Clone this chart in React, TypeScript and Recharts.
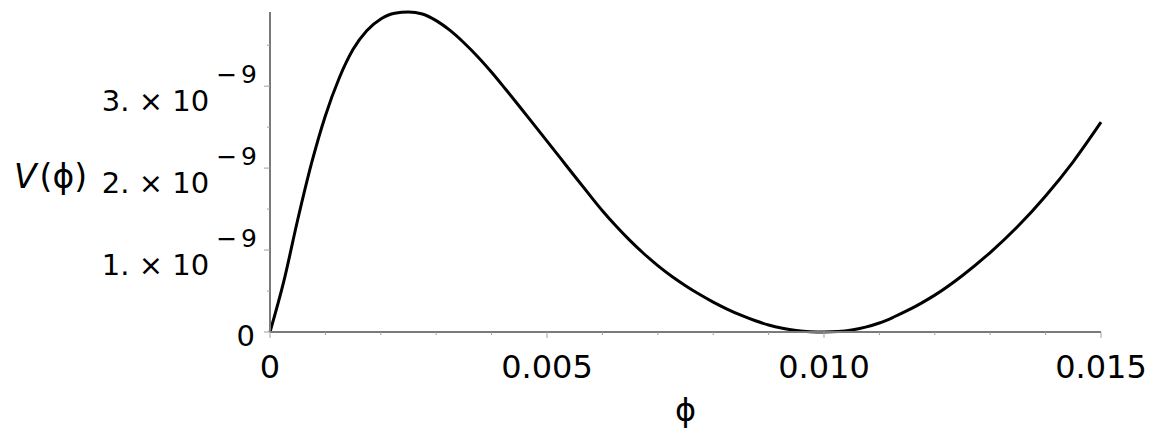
import { LineChart, Line, XAxis, YAxis } from 'recharts';

// curve samples (phi, V(phi))
const PHI = [
  0, 0.00025, 0.0005, 0.00075, 0.001, 0.00125, 0.0015, 0.00175, 0.002, 0.00225,
  0.0025, 0.00275, 0.003, 0.00325, 0.0035, 0.00375, 0.004, 0.00425, 0.0045, 0.00475,
  0.005, 0.00525, 0.0055, 0.00575, 0.006, 0.00625, 0.0065, 0.00675, 0.007, 0.00725,
  0.0075, 0.00775, 0.008, 0.00825, 0.0085, 0.00875, 0.009, 0.00925, 0.0095, 0.00975,
  0.01, 0.01025, 0.0105, 0.01075, 0.011, 0.01125, 0.0115, 0.01175, 0.012, 0.0125,
  0.013, 0.0135, 0.014, 0.0145, 0.015,
];
const V = [
  0, 0.62e-9, 1.37e-9, 2.06e-9, 2.64e-9, 3.1e-9, 3.45e-9, 3.68e-9, 3.82e-9, 3.89e-9,
  3.905e-9, 3.88e-9, 3.8e-9, 3.68e-9, 3.53e-9, 3.36e-9, 3.17e-9, 2.965e-9, 2.755e-9, 2.543e-9,
  2.33e-9, 2.115e-9, 1.9e-9, 1.688e-9, 1.48e-9, 1.29e-9, 1.115e-9, 0.955e-9, 0.81e-9, 0.68e-9,
  0.565e-9, 0.46e-9, 0.365e-9, 0.28e-9, 0.205e-9, 0.14e-9, 0.085e-9, 0.045e-9, 0.018e-9, 0.004e-9,
  0, 0.006e-9, 0.025e-9, 0.06e-9, 0.11e-9, 0.18e-9, 0.26e-9, 0.35e-9, 0.45e-9, 0.69e-9,
  0.97e-9, 1.29e-9, 1.66e-9, 2.08e-9, 2.56e-9,
];

const X_TICKS = [
  0, 0.001, 0.002, 0.003, 0.004, 0.005, 0.006, 0.007,
  0.008, 0.009, 0.01, 0.011, 0.012, 0.013, 0.014, 0.015,
];
const X_LABELS = [
  '0', '', '', '', '', '0.005', '', '',
  '', '', '0.010', '', '', '', '', '0.015',
];
const Y_TICKS = [0, 0.5e-9, 1e-9, 1.5e-9, 2e-9, 2.5e-9, 3e-9, 3.5e-9];
const Y_MANTISSA = ['0', '', '1.', '', '2.', '', '3.', ''];
const Y_EXPONENT = '9';

const FONT = '"DejaVu Sans", sans-serif';
const AXIS = '#7a7a7a';
const TICK = '#a0a0a0';

const data = PHI.map((phi, i) => ({ phi, v: V[i] }));

function XTick(props: any) {
  const { x, y, index } = props;
  const label = X_LABELS[index];
  const major = label !== '';
  return (
    <g>
      <line x1={x} x2={x} y1={y} y2={y + (major ? 6 : 3)} stroke={TICK} strokeWidth={1} />
      {major && (
        <text x={x} y={y + 46} textAnchor="middle" fontSize={32} fontFamily={FONT} fill="#000">
          {label}
        </text>
      )}
    </g>
  );
}

function YTick(props: any) {
  const { x, y, index } = props;
  const mant = Y_MANTISSA[index];
  const major = mant !== '';
  return (
    <g>
      <line x1={x - (major ? 6 : 3)} x2={x} y1={y} y2={y} stroke={TICK} strokeWidth={1} />
      {mant === '0' && (
        <text x={x - 15} y={y + 14} textAnchor="end" fontSize={29} fontFamily={FONT} fill="#000">
          0
        </text>
      )}
      {major && mant !== '0' && (
        <text x={x - 13} y={y + 25} textAnchor="end" fontSize={29} fontFamily={FONT} fill="#000">
          {mant} × 10
          <tspan dx={7} dy={-28} fontSize={25}>
            {'\u2212'}
          </tspan>
          <tspan dx={4} fontSize={25}>
            {Y_EXPONENT}
          </tspan>
        </text>
      )}
    </g>
  );
}

export default function App() {
  return (
    <div style={{ position: 'absolute', left: 0, top: 0, background: '#fff', fontFamily: FONT }}>
      <LineChart width={1157} height={440} data={data} margin={{ top: 12, right: 56, bottom: 0, left: 0 }}>
        <XAxis
          dataKey="phi"
          type="number"
          domain={[0, 0.015]}
          ticks={X_TICKS}
          interval={0}
          height={108}
          tickSize={0}
          tickMargin={0}
          tickLine={false}
          axisLine={{ stroke: AXIS, strokeWidth: 2 }}
          tick={(p: any) => <XTick {...p} />}
          label={{
            content: (p: any) => {
              const vb = p.viewBox || { x: 270, width: 831 };
              return (
                <text x={vb.x + vb.width / 2} y={421} textAnchor="middle" fontSize={32} fontFamily={FONT} fill="#000">
                  ϕ
                </text>
              );
            },
          }}
        />
        <YAxis
          type="number"
          domain={[0, 3.9e-9]}
          ticks={Y_TICKS}
          interval={0}
          width={270}
          tickSize={0}
          tickMargin={0}
          tickLine={false}
          axisLine={{ stroke: AXIS, strokeWidth: 2 }}
          tick={(p: any) => <YTick {...p} />}
          label={{
            content: () => (
              <text x={14} y={188} fontSize={33} fontFamily={FONT} fill="#000">
                <tspan fontStyle="italic">V</tspan>
                <tspan dx={3}>(ϕ)</tspan>
              </text>
            ),
          }}
        />
        <Line
          type="monotone"
          dataKey="v"
          stroke="#000"
          strokeWidth={3}
          dot={false}
          isAnimationActive={false}
        />
      </LineChart>
    </div>
  );
}
